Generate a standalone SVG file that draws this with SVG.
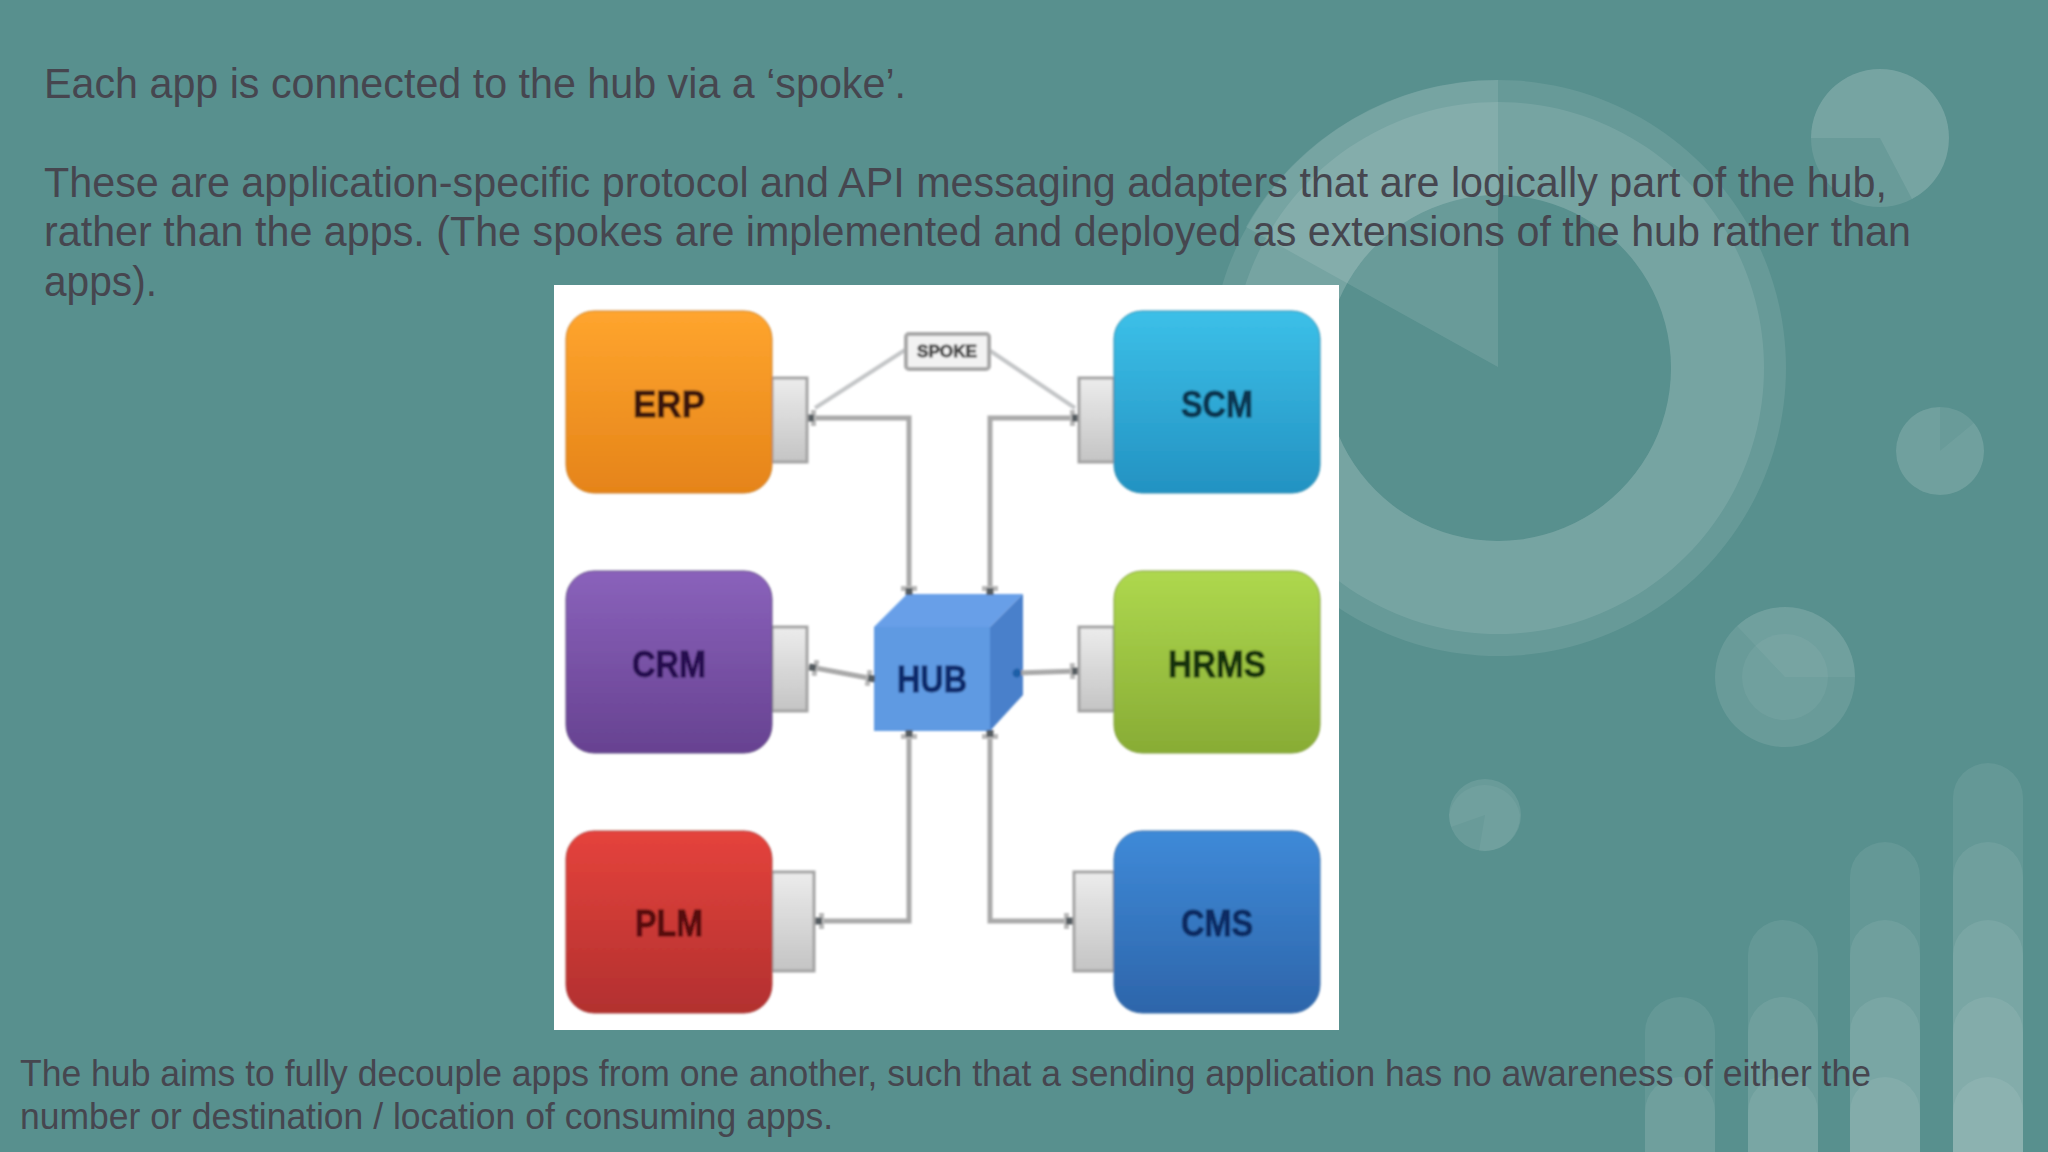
<svg xmlns="http://www.w3.org/2000/svg" width="2048" height="1152" viewBox="0 0 2048 1152">
<style>
.w1{fill:#fff;fill-opacity:.09}
.w2{fill:#fff;fill-opacity:.1}
.s1{fill:#fff;fill-opacity:.1}
.s2{fill:#fff;fill-opacity:.05}
.b{fill:#fff;fill-opacity:.075}
.t{font-family:"Liberation Sans",Arial,sans-serif;fill:#46464f}
.big{font-size:42.67px}
.small{font-size:36.5px}
.n{font-family:"Liberation Sans",Arial,sans-serif;font-weight:700;font-size:36px;text-anchor:middle;stroke-width:.9}
.sp{stroke:#a3a3a3;stroke-width:3}
.c{fill:none;stroke:#a9a9a9;stroke-width:5}
.d{fill:none;stroke:#c4c6c8;stroke-width:4}
</style>
<defs>
<filter id="soft" x="-2%" y="-2%" width="104%" height="104%"><feGaussianBlur stdDeviation="1.3"/></filter>
<linearGradient id="gO" x1="0" y1="0" x2="0" y2="1"><stop offset="0" stop-color="#ffa52e"/><stop offset="1" stop-color="#e58419"/></linearGradient>
<linearGradient id="gC" x1="0" y1="0" x2="0" y2="1"><stop offset="0" stop-color="#3cc0e8"/><stop offset="1" stop-color="#2392c2"/></linearGradient>
<linearGradient id="gP" x1="0" y1="0" x2="0" y2="1"><stop offset="0" stop-color="#8a62bb"/><stop offset="1" stop-color="#674291"/></linearGradient>
<linearGradient id="gG" x1="0" y1="0" x2="0" y2="1"><stop offset="0" stop-color="#aed84e"/><stop offset="1" stop-color="#88ac35"/></linearGradient>
<linearGradient id="gR" x1="0" y1="0" x2="0" y2="1"><stop offset="0" stop-color="#e5433c"/><stop offset="1" stop-color="#b2302f"/></linearGradient>
<linearGradient id="gB" x1="0" y1="0" x2="0" y2="1"><stop offset="0" stop-color="#3f8ad8"/><stop offset="1" stop-color="#2d65aa"/></linearGradient>
<linearGradient id="gS" x1="0" y1="0" x2="0" y2="1"><stop offset="0" stop-color="#ececec"/><stop offset="1" stop-color="#c4c4c4"/></linearGradient>
<marker id="m" viewBox="0 0 10 16" refX="9" refY="8" markerWidth="10" markerHeight="16" markerUnits="userSpaceOnUse" orient="auto-start-reverse">
<rect x="1" y="0" width="5" height="16" fill="#b9b9b9"/><rect x="3" y="4.5" width="7" height="7" fill="#555c60"/>
</marker>
<marker id="dot" viewBox="0 0 10 10" refX="5" refY="5" markerWidth="10" markerHeight="10" markerUnits="userSpaceOnUse" orient="auto">
<circle cx="5" cy="5" r="4.5" fill="#1f5fa8"/>
</marker>
</defs>
<rect id="background" width="2048" height="1152" fill="#58908e"/>
<g id="decoration">
<path class="w1" fill-rule="evenodd" d="M1498 80a288 288 0 1 0 .01 0zM1498 195a173 173 0 1 1-.01 0z"/>
<path class="w2" fill-rule="evenodd" d="M1498 102a266 266 0 1 0 .01 0zM1498 195a173 173 0 1 1-.01 0z"/>
<path class="w2" d="M1498 367V80A288 288 0 0 0 1246 227Z"/>
<circle class="s1" cx="1880" cy="138" r="69"/>
<path class="w1" d="M1880 138H1811A69 69 0 0 1 1949 138A69 69 0 0 1 1912 199Z"/>
<circle class="s1" cx="1940" cy="451" r="44"/>
<path class="s2" d="M1940 451L1974 423A44 44 0 0 1 1940 495A44 44 0 0 1 1940 407Z"/>
<circle class="s1" cx="1785" cy="677" r="70"/>
<circle class="s2" cx="1785" cy="677" r="43"/>
<path class="s2" d="M1785 677H1855A70 70 0 0 0 1737 626Z"/>
<circle class="s1" cx="1485" cy="815" r="36"/>
<path class="s2" d="M1485 815L1479 851A36 36 0 0 0 1520 815A36 36 0 0 0 1449 815A36 36 0 0 0 1451 827Z"/>
<path class="b" d="M1645 1152V1032a35 35 0 0 1 70 0V1152Z"/>
<path class="b" d="M1645 1152V1112a35 35 0 0 1 70 0V1152Z"/>
<path class="b" d="M1748 1152V955a35 35 0 0 1 70 0V1152Z"/>
<path class="b" d="M1748 1152V1032a35 35 0 0 1 70 0V1152Z"/>
<path class="b" d="M1748 1152V1112a35 35 0 0 1 70 0V1152Z"/>
<path class="b" d="M1850 1152V877a35 35 0 0 1 70 0V1152Z"/>
<path class="b" d="M1850 1152V955a35 35 0 0 1 70 0V1152Z"/>
<path class="b" d="M1850 1152V1032a35 35 0 0 1 70 0V1152Z"/>
<path class="b" d="M1850 1152V1112a35 35 0 0 1 70 0V1152Z"/>
<path class="b" d="M1953 1152V798a35 35 0 0 1 70 0V1152Z"/>
<path class="b" d="M1953 1152V877a35 35 0 0 1 70 0V1152Z"/>
<path class="b" d="M1953 1152V955a35 35 0 0 1 70 0V1152Z"/>
<path class="b" d="M1953 1152V1032a35 35 0 0 1 70 0V1152Z"/>
<path class="b" d="M1953 1152V1112a35 35 0 0 1 70 0V1152Z"/>
</g>
<g id="captions">
<text class="t big" x="44" y="98" textLength="862" lengthAdjust="spacingAndGlyphs">Each app is connected to the hub via a ‘spoke’.</text>
<text class="t big" x="44" y="197" textLength="1843" lengthAdjust="spacingAndGlyphs">These are application-specific protocol and API messaging adapters that are logically part of the hub,</text>
<text class="t big" x="44" y="246" textLength="1867" lengthAdjust="spacingAndGlyphs">rather than the apps. (The spokes are implemented and deployed as extensions of the hub rather than</text>
<text class="t big" x="44" y="296" textLength="113" lengthAdjust="spacingAndGlyphs">apps).</text>
<text class="t small" x="20" y="1086" textLength="1851" lengthAdjust="spacingAndGlyphs">The hub aims to fully decouple apps from one another, such that a sending application has no awareness of either the</text>
<text class="t small" x="20" y="1129" textLength="813" lengthAdjust="spacingAndGlyphs">number or destination / location of consuming apps.</text>
</g>
<rect id="panel" x="554" y="285" width="785" height="745" fill="#fff"/>
<g id="picture" filter="url(#soft)">
<g id="node-hub">
<rect x="874" y="627" width="116" height="104" fill="#5f9ae2"/>
<path d="M874 627L907 594H1023L990 627Z" fill="#679fe8"/>
<path d="M990 627L1023 594V695L990 731Z" fill="#4880cb"/>
<text class="n" x="932" y="692" fill="#0c2a6c" stroke="#0c2a6c" textLength="70" lengthAdjust="spacingAndGlyphs">HUB</text>
</g>
<g id="connectors">
<path class="d" d="M815 408L905 350"/>
<path class="d" d="M1075 408L989 350"/>
<path class="c" marker-start="url(#m)" marker-end="url(#m)" d="M808 418H909V594"/>
<path class="c" marker-start="url(#m)" marker-end="url(#m)" d="M1078 418H990V594"/>
<path class="c" marker-start="url(#m)" marker-end="url(#m)" d="M810 667L874 679"/>
<path class="c" marker-start="url(#m)" marker-end="url(#dot)" d="M1078 671L1017 673"/>
<path class="c" marker-start="url(#m)" marker-end="url(#m)" d="M909 731V921H816"/>
<path class="c" marker-start="url(#m)" marker-end="url(#m)" d="M990 731V921H1072"/>
</g>
<g id="node-erp"><rect class="sp" x="772" y="378" width="35" height="84" fill="url(#gS)"/><rect x="566" y="311" width="206" height="182" rx="28" fill="url(#gO)" stroke="#c97d28"/><text class="n" x="669" y="417" fill="#3a1610" stroke="#3a1610" textLength="72" lengthAdjust="spacingAndGlyphs">ERP</text></g>
<g id="node-scm"><rect class="sp" x="1079" y="378" width="35" height="84" fill="url(#gS)"/><rect x="1114" y="311" width="206" height="182" rx="28" fill="url(#gC)" stroke="#2a8aae"/><text class="n" x="1217" y="417" fill="#0c3550" stroke="#0c3550" textLength="72" lengthAdjust="spacingAndGlyphs">SCM</text></g>
<g id="node-crm"><rect class="sp" x="772" y="627" width="35" height="84" fill="url(#gS)"/><rect x="566" y="571" width="206" height="182" rx="28" fill="url(#gP)" stroke="#5e4a80"/><text class="n" x="669" y="677" fill="#261050" stroke="#261050" textLength="74" lengthAdjust="spacingAndGlyphs">CRM</text></g>
<g id="node-hrms"><rect class="sp" x="1079" y="627" width="35" height="84" fill="url(#gS)"/><rect x="1114" y="571" width="206" height="182" rx="28" fill="url(#gG)" stroke="#7f9c3c"/><text class="n" x="1217" y="677" fill="#12300a" stroke="#12300a" textLength="98" lengthAdjust="spacingAndGlyphs">HRMS</text></g>
<g id="node-plm"><rect class="sp" x="772" y="872" width="42" height="99" fill="url(#gS)"/><rect x="566" y="831" width="206" height="182" rx="28" fill="url(#gR)" stroke="#a8403c"/><text class="n" x="669" y="936" fill="#560a10" stroke="#560a10" textLength="68" lengthAdjust="spacingAndGlyphs">PLM</text></g>
<g id="node-cms"><rect class="sp" x="1074" y="872" width="40" height="99" fill="url(#gS)"/><rect x="1114" y="831" width="206" height="182" rx="28" fill="url(#gB)" stroke="#3b6ea8"/><text class="n" x="1217" y="936" fill="#0b2a62" stroke="#0b2a62" textLength="72" lengthAdjust="spacingAndGlyphs">CMS</text></g>
<g id="label-spoke"><rect x="906" y="334" width="83" height="35" rx="3" fill="#f2f2f2" stroke="#a8a8a8" stroke-width="4"/><text class="n" x="947" y="357" fill="#4a4a4a" stroke="#4a4a4a" style="font-size:17px" textLength="60" lengthAdjust="spacingAndGlyphs">SPOKE</text></g>
</g>
</svg>
